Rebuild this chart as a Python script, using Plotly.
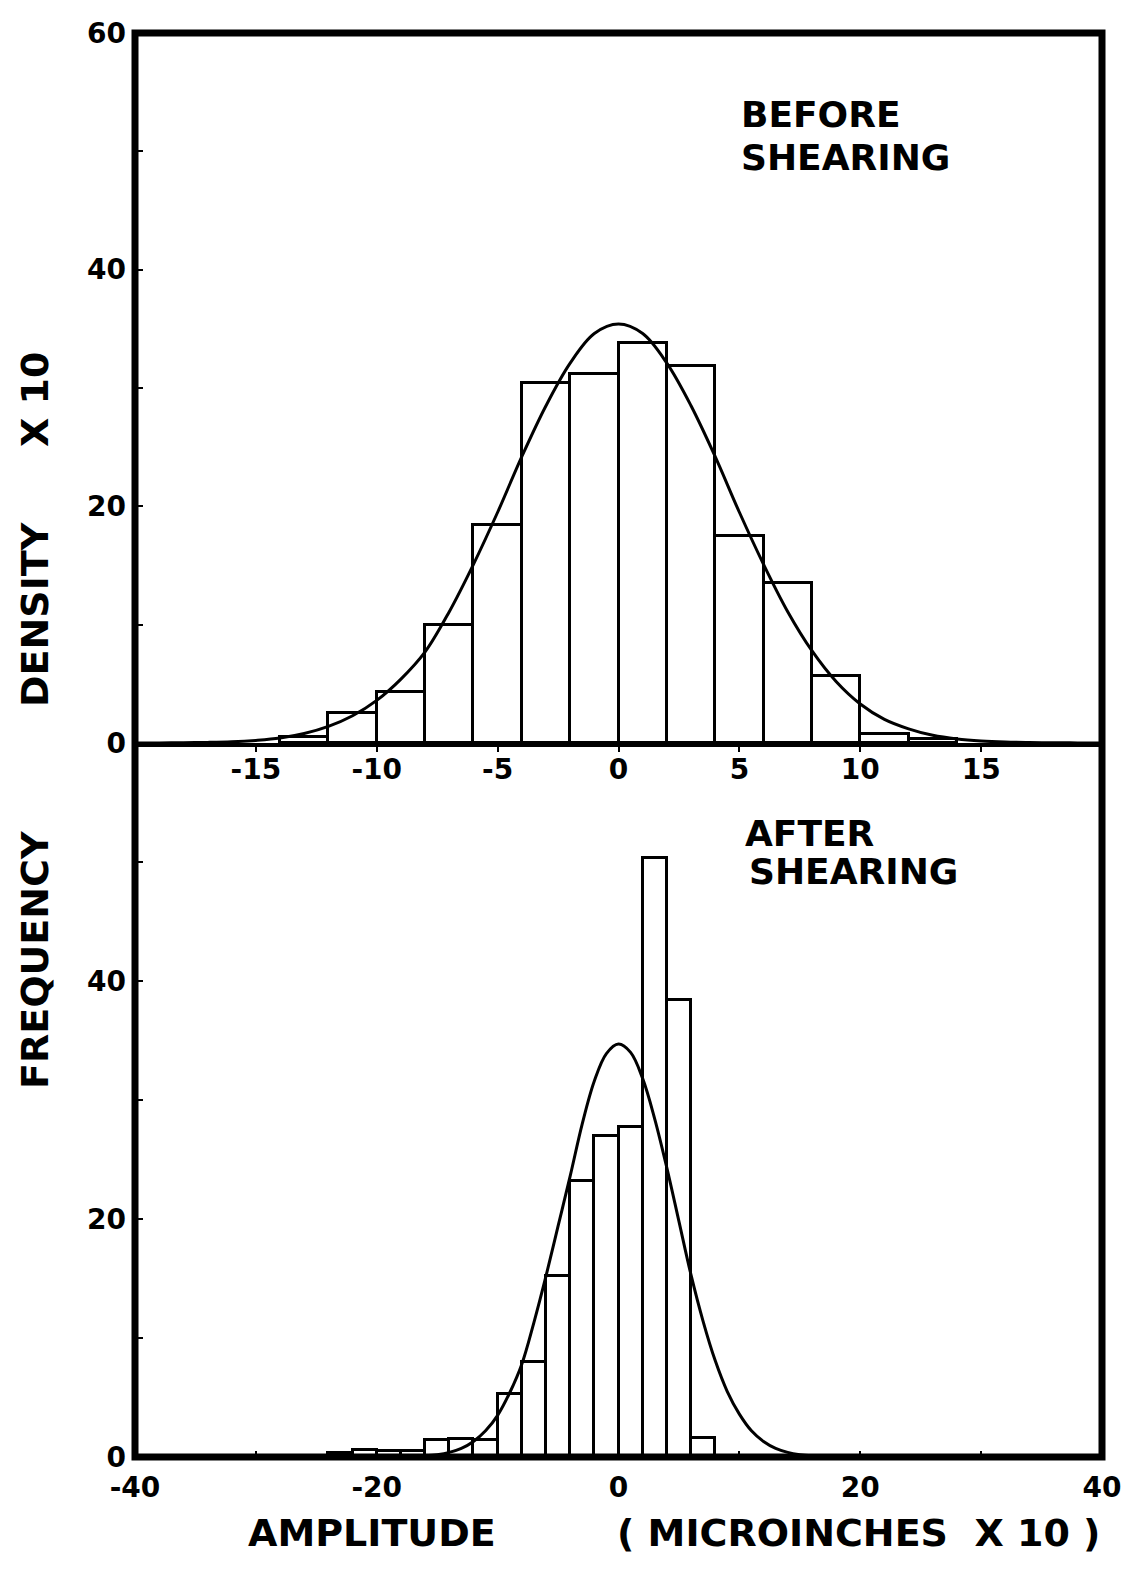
import plotly.graph_objects as go
from plotly.subplots import make_subplots

# ---------------- data ----------------
# Before shearing: histogram (bin width 2), left bin edges and heights
before_bin_left = [-14, -12, -10, -8, -6, -4, -2, 0, 2, 4, 6, 8, 10, 12]
before_height = [0.5, 2.5, 4.3, 10.0, 18.4, 30.4, 31.2, 33.8, 31.9, 17.5, 13.5, 5.7, 0.75, 0.3]

# Before shearing: fitted curve
before_curve_x = list(range(-20, 21))
before_curve_y = [0.0, 0.01, 0.03, 0.05, 0.1, 0.22, 0.42, 0.8, 1.4, 2.3, 3.6, 5.4, 7.7, 11.1, 15.1,
                  19.5, 24.2, 28.5, 32.1, 34.6, 35.4, 34.6, 32.1, 28.5, 24.2, 19.5, 15.1, 11.1, 7.8,
                  5.2, 3.3, 2.0, 1.2, 0.65, 0.34, 0.17, 0.08, 0.04, 0.02, 0.01, 0.0]

# After shearing: histogram (bin width 2)
after_bin_left = [-24, -22, -20, -18, -16, -14, -12, -10, -8, -6, -4, -2, 0, 2, 4, 6]
after_height = [0.35, 0.6, 0.5, 0.5, 1.4, 1.5, 1.4, 5.3, 8.0, 15.2, 23.2, 27.0, 27.7, 50.3, 38.4, 1.6]

# After shearing: fitted curve
after_curve_x = list(range(-20, 21))
after_curve_y = [0.0, 0.01, 0.02, 0.05, 0.1, 0.2, 0.39, 0.72, 1.3, 2.2, 3.5, 5.4, 7.8, 11.3, 15.2,
                 19.4, 23.6, 28.0, 31.6, 33.9, 34.7, 34.0, 31.8, 28.4, 24.3, 19.8, 15.3, 11.4, 8.1,
                 5.5, 3.6, 2.2, 1.3, 0.72, 0.39, 0.2, 0.1, 0.05, 0.02, 0.01, 0.0]

bin_width = 2
top_xticks = [-15, -10, -5, 0, 5, 10, 15]
bottom_xticks = [-40, -30, -20, -10, 0, 10, 20, 30, 40]
bottom_xlabels = ['-40', '', '-20', '', '0', '', '20', '', '40']
top_yticks = [0, 10, 20, 30, 40, 50, 60]
top_ylabels = ['0', '', '20', '', '40', '', '60']
bottom_yticks = [0, 10, 20, 30, 40, 50]
bottom_ylabels = ['0', '', '20', '', '40', '']

# ---------------- figure ----------------
FONT = "DejaVu Sans"
fig = make_subplots(rows=2, cols=1, vertical_spacing=0)

bar_style = dict(color='white', line=dict(color='black', width=3))
curve_style = dict(color='black', width=3, shape='spline')

fig.add_trace(go.Bar(x=[b + bin_width / 2 for b in before_bin_left], y=before_height,
                     width=bin_width, marker=bar_style, showlegend=False), row=1, col=1)
fig.add_trace(go.Scatter(x=before_curve_x, y=before_curve_y, mode='lines',
                         line=curve_style, showlegend=False), row=1, col=1)
fig.add_trace(go.Bar(x=[b + bin_width / 2 for b in after_bin_left], y=after_height,
                     width=bin_width, marker=bar_style, showlegend=False), row=2, col=1)
fig.add_trace(go.Scatter(x=after_curve_x, y=after_curve_y, mode='lines',
                         line=curve_style, showlegend=False), row=2, col=1)

tickfont = dict(family=FONT, size=28, color='black', weight='bold')

fig.update_xaxes(row=1, col=1, range=[-20, 20], tickvals=top_xticks,
                 ticktext=[str(v) for v in top_xticks], showline=True, linewidth=4,
                 linecolor='black', ticks='outside', ticklen=5, tickwidth=2, tickcolor='black',
                 ticklabelstandoff=-7, showgrid=False, zeroline=False, tickfont=tickfont,
                 automargin=False)
fig.update_xaxes(row=2, col=1, range=[-40, 40], tickvals=bottom_xticks,
                 ticktext=bottom_xlabels, showline=False,
                 ticks='inside', ticklen=6, tickwidth=2, tickcolor='black',
                 ticklabelstandoff=11, showgrid=False, zeroline=False, tickfont=tickfont,
                 automargin=False)
fig.update_yaxes(row=1, col=1, range=[0, 60], tickvals=top_yticks, ticktext=top_ylabels,
                 ticks='inside', ticklen=8, tickwidth=2, tickcolor='black',
                 ticklabelstandoff=8, showgrid=False, zeroline=False, showline=False,
                 tickfont=tickfont, automargin=False)
fig.update_yaxes(row=2, col=1, range=[0, 60], tickvals=bottom_yticks, ticktext=bottom_ylabels,
                 ticks='inside', ticklen=8, tickwidth=2, tickcolor='black',
                 ticklabelstandoff=8, showgrid=False, zeroline=False, showline=False,
                 tickfont=tickfont, automargin=False)

# panel split (top panel's baseline sits at ~50.1% of the plot height)
split = 0.5014
fig.update_layout(yaxis=dict(domain=[split, 1]), yaxis2=dict(domain=[0, split]))

# outer frame
fig.add_shape(type='rect', xref='paper', yref='paper', x0=0, x1=1, y0=0, y1=1,
              line=dict(color='black', width=7), layer='above')

label_font = dict(family=FONT, size=36, color='black', weight='bold')
ann = [
    dict(text='BEFORE', x=5, y=53.1, xref='x', yref='y'),
    dict(text='SHEARING', x=5, y=49.5, xref='x', yref='y'),
    dict(text='AFTER', x=10.3, y=52.4, xref='x2', yref='y2'),
    dict(text='SHEARING', x=10.6, y=49.2, xref='x2', yref='y2'),
]
for a in ann:
    fig.add_annotation(showarrow=False, font=label_font, xanchor='left', yanchor='middle', **a)

# plot area in the reference: x 135..1102, y 33..1457 (pixels)
PL, PR, PT, PB = 135, 1102, 33, 1457
title_font = dict(family=FONT, size=38, color='black', weight='bold')
for txt, py in [('FREQUENCY', 960), ('DENSITY', 615), ('X 10', 400)]:
    fig.add_annotation(text=txt, x=(35 - PL) / (PR - PL), y=(PB - py) / (PB - PT),
                       xref='paper', yref='paper', textangle=-90, showarrow=False,
                       font=title_font, xanchor='center', yanchor='middle')
for txt, px in [('AMPLITUDE', 372), ('( MICROINCHES  X 10 )', 858)]:
    fig.add_annotation(text=txt, x=(px - PL) / (PR - PL), y=(PB - 1533) / (PB - PT),
                       xref='paper', yref='paper', showarrow=False, font=title_font,
                       xanchor='center', yanchor='middle')

# the page body adds an 8px offset, so the figure is shifted to compensate
OFF = 8
W, H = 1143 - OFF, 1574 - OFF
fig.update_layout(width=W, height=H,
                  margin=dict(l=PL - OFF, r=W - (PR - OFF), t=PT - OFF, b=H - (PB - OFF)),
                  plot_bgcolor='white', paper_bgcolor='white', bargap=0)

fig.write_html("out.html")
